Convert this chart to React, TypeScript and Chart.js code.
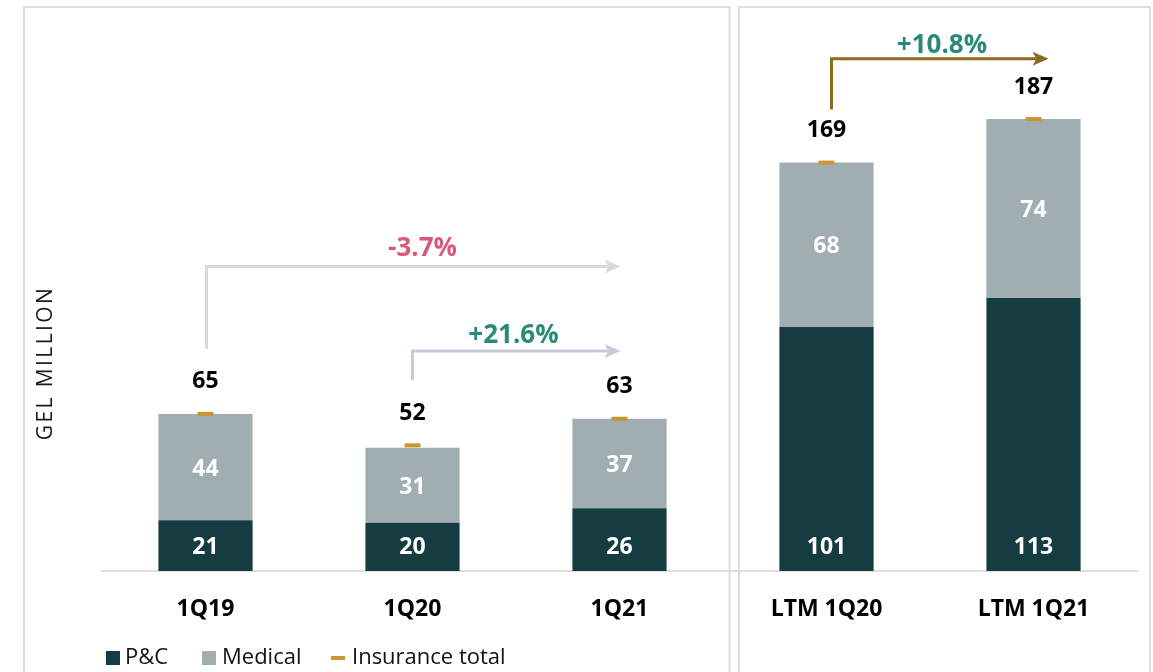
import React, { useEffect, useRef } from 'react';
import { Chart, registerables } from 'chart.js';

Chart.register(...registerables);

// ---- data ----
const categories = ['1Q19', '1Q20', '1Q21', 'LTM 1Q20', 'LTM 1Q21'];
const pcValues = [21, 20, 26, 101, 113];
const medicalValues = [44, 31, 37, 68, 74];
const totalValues = [65, 52, 63, 169, 187];
const seriesNames = ['P&C', 'Medical', 'Insurance total'];
const yAxisTitle = 'GEL MILLION';

// growth annotations (category indices and levels in data units)
const growthLabels = ['-3.7%', '+21.6%', '+10.8%'];
const growthFrom = [0, 1, 3];
const growthTo = [2, 2, 4];
const growthStart = [92, 79, 191];
const growthLevel = [126, 91, 212];

// ---- styles ----
const FONT = "'Open Sans', 'DejaVu Sans', sans-serif";
const C_PC = '#143c41';
const C_MED = '#a1aeb1';
const C_TOTAL = '#c9962f';
const C_BORDER = '#dedede';
const growthLineColors = ['#d9d9d9', '#c9c9d9', '#8c6a1e'];
const growthTextColors = ['#d9597a', '#2a8a78', '#2a8a78'];
const growthStartDx = [1, 0, 5];
const growthEndDx = [1, 1, 15];
const growthTextDx = [9, -3, 2];
const growthTextDy = [11, 8, 6];
const legendX = [106, 202, 331];
const legendTextDx = [19, 20, 21];

const decorPlugin = {
  id: 'decor',
  beforeDraw(chart: any) {
    const { ctx } = chart;
    const xs = chart.scales.x;
    const mid = (xs.getPixelForValue(2) + xs.getPixelForValue(3)) / 2;
    ctx.save();
    ctx.strokeStyle = C_BORDER;
    ctx.lineWidth = 2;
    ctx.beginPath();
    ctx.moveTo(24, 700);
    ctx.lineTo(24, 7);
    ctx.lineTo(mid + 6.5, 7);
    ctx.lineTo(mid + 6.5, 700);
    ctx.stroke();
    ctx.beginPath();
    ctx.moveTo(mid + 16, 700);
    ctx.lineTo(mid + 16, 7);
    ctx.lineTo(1150, 7);
    ctx.lineTo(1150, 700);
    ctx.stroke();
    ctx.restore();
  },
  afterDraw(chart: any) {
    const { ctx } = chart;
    const xs = chart.scales.x;
    const ys = chart.scales.y;
    ctx.save();
    // y axis title
    ctx.save();
    ctx.translate(46, 364);
    ctx.rotate(-Math.PI / 2);
    ctx.fillStyle = '#1a1a1a';
    ctx.font = `21px ${FONT}`;
    (ctx as any).letterSpacing = '2.4px';
    ctx.textAlign = 'center';
    ctx.textBaseline = 'middle';
    ctx.fillText(yAxisTitle, 1, 0);
    (ctx as any).letterSpacing = '0px';
    ctx.restore();

    // segment labels
    ctx.font = `bold 23px ${FONT}`;
    ctx.textAlign = 'center';
    ctx.textBaseline = 'middle';
    ctx.fillStyle = '#ffffff';
    const pcMeta = chart.getDatasetMeta(0);
    pcMeta.data.forEach((el: any, i: number) => {
      ctx.fillText(String(pcValues[i]), el.x, el.base - 24);
    });
    const medMeta = chart.getDatasetMeta(1);
    medMeta.data.forEach((el: any, i: number) => {
      ctx.fillText(String(medicalValues[i]), el.x, (el.y + el.base) / 2 + 2);
    });
    // total labels
    const tmeta = chart.getDatasetMeta(2);
    ctx.fillStyle = '#000000';
    tmeta.data.forEach((pt: any, i: number) => {
      ctx.fillText(String(totalValues[i]), pt.x, pt.y - 32);
    });

    // growth arrows
    growthLabels.forEach((lbl, k) => {
      const x0 = xs.getPixelForValue(growthFrom[k]) + growthStartDx[k];
      const x1 = xs.getPixelForValue(growthTo[k]) + growthEndDx[k];
      const y0 = ys.getPixelForValue(growthStart[k]);
      const yl = ys.getPixelForValue(growthLevel[k]);
      ctx.strokeStyle = growthLineColors[k];
      ctx.fillStyle = growthLineColors[k];
      ctx.lineWidth = 3;
      ctx.lineJoin = 'miter';
      ctx.beginPath();
      ctx.moveTo(x0, y0);
      ctx.lineTo(x0, yl);
      ctx.lineTo(x1 - 12, yl);
      ctx.stroke();
      ctx.beginPath();
      ctx.moveTo(x1, yl);
      ctx.lineTo(x1 - 16, yl - 7);
      ctx.lineTo(x1 - 12, yl);
      ctx.lineTo(x1 - 16, yl + 7);
      ctx.closePath();
      ctx.fill();
      ctx.fillStyle = growthTextColors[k];
      ctx.font = `bold 26px ${FONT}`;
      ctx.textAlign = 'center';
      ctx.textBaseline = 'alphabetic';
      ctx.fillText(lbl, (x0 + x1) / 2 + growthTextDx[k], yl - growthTextDy[k]);
    });

    // legend
    const ly = 658;
    ctx.font = `22px ${FONT}`;
    ctx.textAlign = 'left';
    ctx.textBaseline = 'middle';
    const legendColors = [C_PC, C_MED, C_TOTAL];
    seriesNames.forEach((name, i) => {
      const lx = legendX[i];
      ctx.fillStyle = legendColors[i];
      if (i < 2) {
        ctx.fillRect(lx, ly - 7, 14, 14);
      } else {
        ctx.fillRect(lx, ly - 2, 14, 4);
      }
      ctx.fillStyle = '#111111';
      ctx.fillText(name, lx + legendTextDx[i], ly);
    });
    ctx.restore();
  },
};

export default function App() {
  const ref = useRef<HTMLCanvasElement>(null);
  useEffect(() => {
    if (!ref.current) return;
    const chart = new Chart(ref.current, {
      type: 'bar',
      data: {
        labels: categories,
        datasets: [
          {
            label: seriesNames[0],
            data: pcValues,
            backgroundColor: C_PC,
            stack: 's',
            barPercentage: 0.91,
            categoryPercentage: 0.5,
            order: 2,
          } as any,
          {
            label: seriesNames[1],
            data: medicalValues,
            backgroundColor: C_MED,
            stack: 's',
            barPercentage: 0.91,
            categoryPercentage: 0.5,
            order: 2,
          } as any,
          {
            type: 'line',
            label: seriesNames[2],
            data: totalValues,
            showLine: false,
            borderColor: C_TOTAL,
            backgroundColor: C_TOTAL,
            pointStyle: 'line',
            pointRadius: 8,
            pointBorderWidth: 4,
            pointHoverRadius: 8,
            stack: 'totals',
            order: 1,
          } as any,
        ],
      },
      options: {
        animation: false,
        responsive: false,
        maintainAspectRatio: false,
        events: [],
        layout: { padding: { left: 102, right: 16, top: 20, bottom: 0 } },
        plugins: {
          legend: { display: false },
          tooltip: { enabled: false },
        },
        scales: {
          x: {
            stacked: true,
            offset: true,
            grid: { display: false, drawTicks: false },
            border: { display: true, color: C_BORDER, width: 2 },
            ticks: {
              color: '#000',
              font: { family: FONT, size: 23, weight: 'bold' },
              padding: 25,
            },
            afterFit: (scale: any) => {
              scale.height = 101;
            },
          },
          y: {
            display: false,
            stacked: true,
            min: 0,
            max: 228,
          },
        },
      } as any,
      plugins: [decorPlugin],
    });
    return () => chart.destroy();
  }, []);
  return (
    <div style={{ position: 'fixed', left: 0, top: 0, width: 1153, height: 672, background: '#fff' }}>
      <canvas ref={ref} width={1153} height={672} style={{ width: 1153, height: 672, display: 'block' }} />
    </div>
  );
}
